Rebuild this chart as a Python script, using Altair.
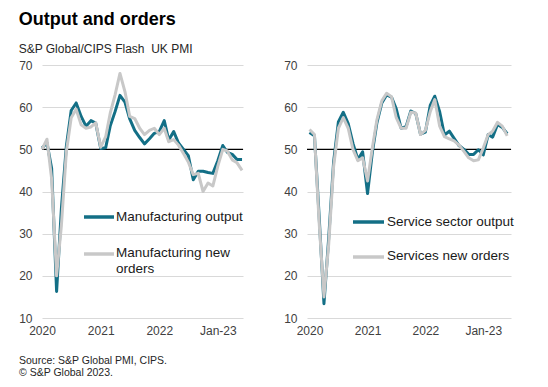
import altair as alt
import pandas as pd

# ---- data (Jan 2020 .. Jun 2023, monthly) ----
months = [f"{y}-{m:02d}-01T00:00:00" for y in range(2020, 2024) for m in range(1, 13)][:42]

mfg_output = [50.3, 51.5, 45.5, 16.3, 36.0, 50.8, 59.2, 61.0, 57.8, 55.5, 56.8, 56.2,
              50.2, 50.4, 55.5, 59.0, 62.8, 61.2, 57.2, 54.5, 52.8, 51.3, 52.5, 53.8,
              54.2, 56.8, 52.2, 54.2, 51.5, 50.0, 48.5, 42.8, 44.8, 44.8, 44.5, 44.3,
              47.3, 50.9, 49.3, 48.8, 47.6, 47.6]
mfg_new_orders = [50.0, 52.4, 43.0, 20.0, 32.0, 49.5, 57.5, 59.5, 55.8, 55.0, 55.3, 56.3,
                  50.5, 53.0, 58.5, 63.0, 68.0, 63.7, 57.8, 57.3, 55.0, 53.5, 54.5, 55.0,
                  53.5, 55.0, 51.8, 52.3, 51.0, 49.0, 47.0, 44.0, 44.3, 40.0, 42.0, 41.3,
                  46.0, 50.0, 49.6, 47.5, 46.8, 45.0]
svc_output = [54.0, 53.2, 34.5, 13.4, 29.0, 47.1, 56.5, 58.8, 56.1, 51.4, 47.6, 49.4,
              39.5, 49.5, 56.3, 61.0, 62.9, 62.4, 59.6, 55.0, 55.4, 59.1, 58.5, 53.6,
              54.1, 60.5, 62.6, 58.9, 53.4, 54.3, 52.6, 50.9, 50.0, 48.8, 48.8, 49.9,
              48.7, 53.5, 52.9, 55.9, 55.2, 53.7]
svc_new_orders = [54.7, 53.5, 33.0, 15.0, 27.5, 46.0, 55.0, 57.5, 55.0, 50.0, 47.3, 48.0,
                  42.5, 50.5, 57.0, 61.5, 63.3, 62.5, 57.5, 55.0, 55.0, 58.8, 58.6, 53.5,
                  54.5, 59.0, 61.8, 55.5, 53.0, 52.5, 52.0, 51.0, 49.5, 48.0, 47.3, 47.5,
                  50.3, 53.5, 54.3, 56.4, 55.5, 53.2]

series_names = ["Manufacturing output", "Manufacturing new orders",
                "Service sector output", "Services new orders"]
legend_labels = ["Manufacturing output", "Manufacturing new\norders",
                 "Service sector output", "Services new orders"]
y_ticks = [10, 20, 30, 40, 50, 60, 70]
tick_years = [2020, 2021, 2022, 2023]
ref_level = [50]
footer_lines = ["Source: S&P Global PMI, CIPS.", "\u00a9 S&P Global 2023."]

TEAL = "#136f86"
GREY = "#c8c8c8"
FONT = "Liberation Sans"
TXT = "#1a1a1a"

year_ticks = [alt.DateTime(year=y, month=1, date=1) for y in tick_years]


def panel(out_vals, ord_vals, out_name, ord_name, out_label, ord_label,
          width, dom, leg, footer=False):
    df = pd.DataFrame({
        "date": months * 2,
        "value": out_vals + ord_vals,
        "series": [out_name] * len(months) + [ord_name] * len(months),
    })
    x = alt.X("date:T", title=None, scale=alt.Scale(domain=dom),
              axis=alt.Axis(values=year_ticks,
                            labelExpr="year(datum.value) == 2023 ? timeFormat(datum.value, '%b-%y') : timeFormat(datum.value, '%Y')",
                            grid=False, ticks=False, domain=False, labelPadding=7,
                            labelFlush=False, labelOverlap=False))
    y = alt.Y("value:Q", title=None, scale=alt.Scale(domain=[10, 70], nice=False, zero=False),
              axis=alt.Axis(values=y_ticks, grid=True, gridColor="#d9d9d9", gridWidth=1,
                            ticks=False, domain=False, labelPadding=10))
    ref = alt.Chart(pd.DataFrame({"level": ref_level})).mark_rule(
        color="black", strokeWidth=1.3).encode(y="level:Q")
    l1 = alt.Chart(df).transform_filter(alt.datum.series == out_name).mark_line(
        color=TEAL, strokeWidth=3, strokeJoin="round").encode(x=x, y=y)
    l2 = alt.Chart(df).transform_filter(alt.datum.series == ord_name).mark_line(
        color=GREY, strokeWidth=3, strokeJoin="round").encode(x=x, y=y)

    lx0, lx1, tx, ty1, ty2 = leg
    r1 = alt.Chart(pd.DataFrame({"s": [out_label]})).mark_rule(
        color=TEAL, strokeWidth=3.5).encode(x=alt.value(lx0), x2=alt.value(lx1), y=alt.value(ty1))
    r2 = alt.Chart(pd.DataFrame({"s": [ord_label]})).mark_rule(
        color=GREY, strokeWidth=3.5).encode(x=alt.value(lx0), x2=alt.value(lx1), y=alt.value(ty2))
    t1 = alt.Chart(pd.DataFrame({"s": [out_label]})).mark_text(
        align="left", baseline="middle", font=FONT, fontSize=13.5, color=TXT,
        lineBreak="\n", lineHeight=16).encode(text="s:N", x=alt.value(tx), y=alt.value(ty1))
    t2 = alt.Chart(pd.DataFrame({"s": [ord_label]})).mark_text(
        align="left", baseline="top", font=FONT, fontSize=13.5, color=TXT,
        lineBreak="\n", lineHeight=16).encode(text="s:N", x=alt.value(tx), y=alt.value(ty2 - 8))
    layers = [ref, l1, l2, r1, r2, t1, t2]
    if footer:
        f = alt.Chart(pd.DataFrame({"s": ["\n".join(footer_lines)]})).mark_text(
            align="left", baseline="top", font=FONT, fontSize=10.5, color="#262626",
            lineBreak="\n", lineHeight=12).encode(text="s:N", x=alt.value(-23), y=alt.value(291))
        layers.append(f)
    return alt.layer(*layers).properties(width=width, height=253)


left = panel(mfg_output, mfg_new_orders, series_names[0], series_names[1],
             legend_labels[0], legend_labels[1], 201,
             [alt.DateTime(year=2020, month=1, date=1), alt.DateTime(year=2023, month=6, date=7)],
             (42, 72, 74, 152, 189), footer=True)
right = panel(svc_output, svc_new_orders, series_names[2], series_names[3],
              legend_labels[2], legend_labels[3], 204,
              [alt.DateTime(year=2019, month=12, date=16), alt.DateTime(year=2023, month=6, date=25)],
              (46, 77, 80, 157, 192))

chart = alt.hconcat(left, right, spacing=64, bounds="flush").properties(
    title=alt.TitleParams(
        text="Output and orders",
        subtitle="S&P Global/CIPS Flash\u00a0 UK PMI",
        anchor="start", font=FONT, fontSize=18, fontWeight="bold", color="black",
        subtitleFont=FONT, subtitleFontSize=12, subtitleColor="#262626",
        subtitlePadding=15, offset=4),
    padding={"left": 10, "top": 3, "right": 5, "bottom": 5},
).configure_view(stroke=None).configure_axis(
    labelFont=FONT, labelFontSize=12, labelColor="#404040")

chart.save("out.html", embed_options={"renderer": "svg", "actions": False})
